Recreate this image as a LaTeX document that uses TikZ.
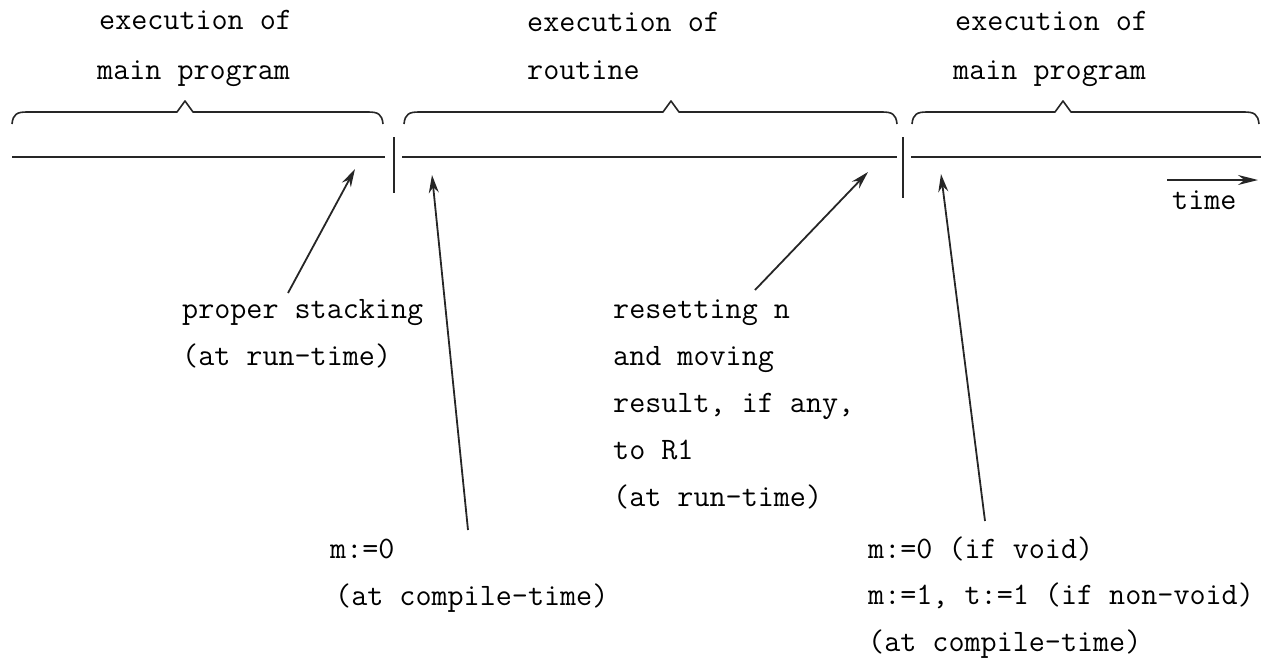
\documentclass[tikz,border=0pt]{standalone}
\usetikzlibrary{arrows.meta}
\begin{document}
\begin{tikzpicture}[x=1pt,y=-1pt,
  lbl/.style={anchor=mid west,inner sep=0pt,font=\fontsize{31.2}{47}\selectfont\ttfamily},
  tline/.style={line width=2pt,black!85},
  bar/.style={line width=2pt,black!85},
  brc/.style={line width=1.6pt,black!85,line join=round},
  ptr/.style={line width=1.8pt,black!85,-{Stealth[length=18pt,width=10pt]}}]
\useasboundingbox (0,0) rectangle (1261,667);

% headings above the braces
\node[lbl] (h1a) at (99,27) {execution of};
\node[lbl] (h1b) at (97,77) {main program};
\node[lbl] (h2a) at (527,29) {execution of};
\node[lbl] (h2b) at (527,77) {routine};
\node[lbl] (h3a) at (955,28) {execution of};
\node[lbl] (h3b) at (953,77) {main program};

% braces: shallow curled ends, small caret at the tip
\newcommand{\hbrace}[3]{%
  \draw[brc] (#1,124) .. controls (#1+1,114) and (#1+5,112) .. (#1+15,112)
    -- (#3-8,112) -- (#3,101) -- (#3+8,112) -- (#2-15,112)
    .. controls (#2-5,112) and (#2-1,114) .. (#2,124);}
\hbrace{12}{383}{185}
\hbrace{404}{897}{671}
\hbrace{912}{1259}{1063}

% timeline with the two switch points
\coordinate (t0) at (12,157);
\coordinate (t1) at (385,157);
\coordinate (t2) at (402,157);
\coordinate (t3) at (897,157);
\coordinate (t4) at (911,157);
\coordinate (t5) at (1261,157);
\draw[tline] (t0) -- (t1);
\draw[tline] (t2) -- (t3);
\draw[tline] (t4) -- (t5);
\coordinate (b1t) at (394,137);
\coordinate (b1b) at (394,193);
\coordinate (b2t) at (903,137);
\coordinate (b2b) at (903,198);
\draw[bar] (b1t) -- (b1b);
\draw[bar] (b2t) -- (b2b);

% direction of time
\coordinate (ta) at (1167,180);
\coordinate (tb) at (1258,180);
\draw[line width=1.8pt,black!85,-{Stealth[length=20pt,width=10pt]}] (ta) -- (tb);
\node[lbl] (time) at (1172,207) {time};

% annotations
\node[lbl] (ps1) at (182,316) {proper stacking};
\node[lbl] (ps2) at (182,363) {(at run-time)};

\node[lbl] (rs1) at (613,316) {resetting n};
\node[lbl] (rs2) at (613,363) {and moving};
\node[lbl] (rs3) at (613,410) {result, if any,};
\node[lbl] (rs4) at (613,457) {to R1};
\node[lbl] (rs5) at (613,504) {(at run-time)};

\node[lbl] (mc1) at (330,556) {m:=0};
\node[lbl] (mc2) at (335,603) {(at compile-time)};

\node[lbl] (rc1) at (868,556) {m:=0 (if void)};
\node[lbl] (rc2) at (868,602) {m:=1, t:=1 (if non-void)};
\node[lbl] (rc3) at (868,649) {(at compile-time)};

% pointers from the notes to the timeline
\coordinate (p1s) at (288,293);
\coordinate (p1e) at (355,169);
\coordinate (p2s) at (468,530);
\coordinate (p2e) at (432,175);
\coordinate (p3s) at (755,290);
\coordinate (p3e) at (868,172);
\coordinate (p4s) at (985,521);
\coordinate (p4e) at (941,174);
\draw[ptr] (p1s) -- (p1e);
\draw[ptr] (p2s) -- (p2e);
\draw[ptr] (p3s) -- (p3e);
\draw[ptr] (p4s) -- (p4e);
\end{tikzpicture}
\end{document}
